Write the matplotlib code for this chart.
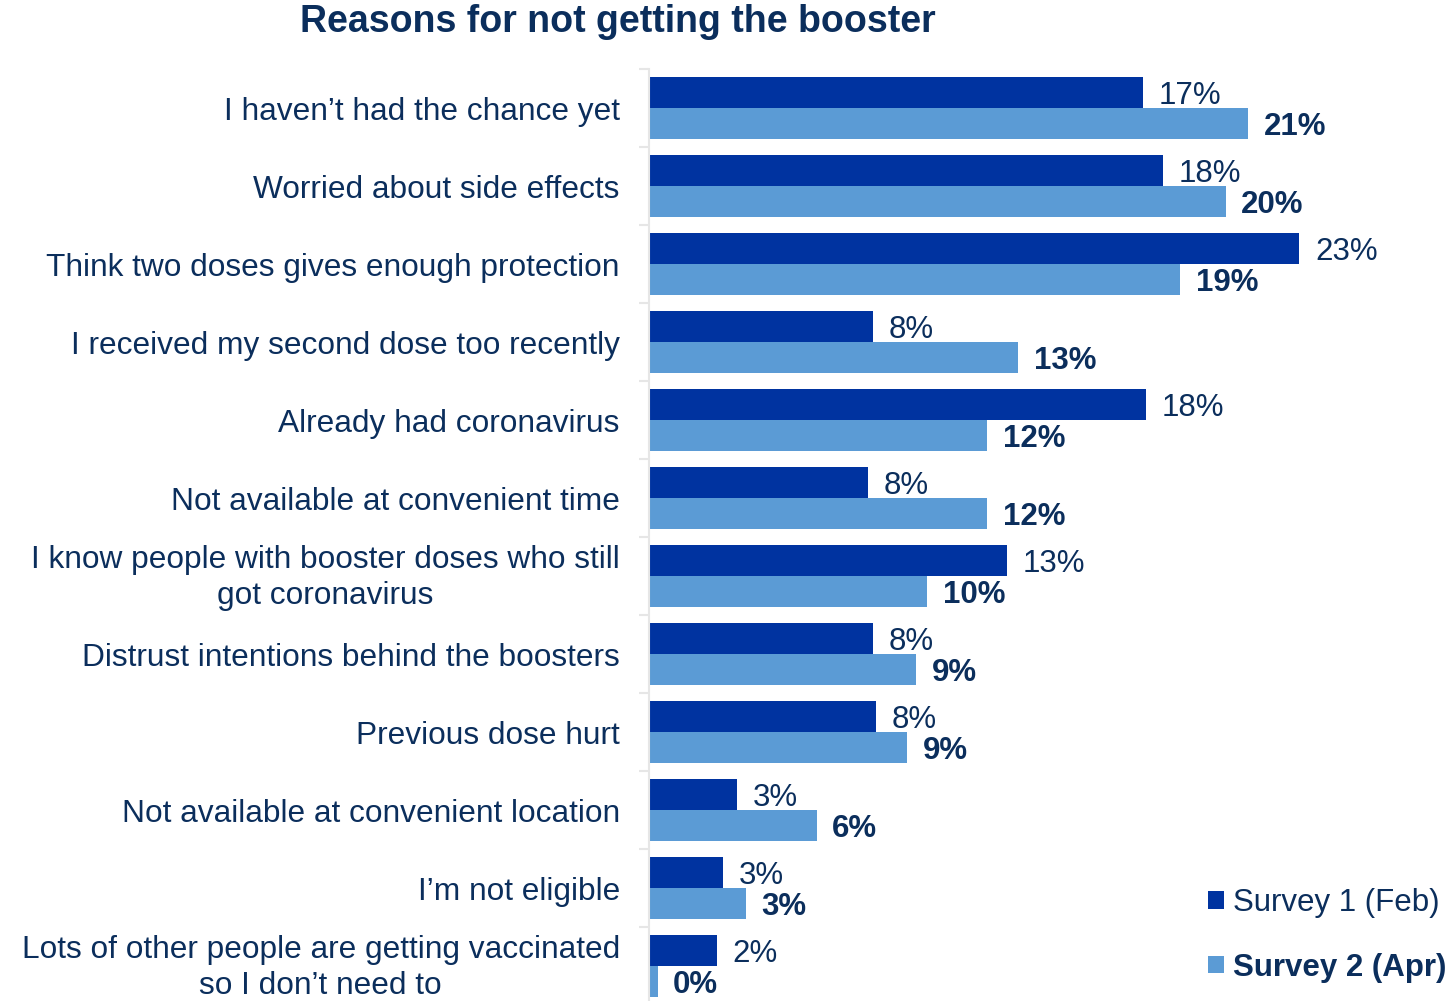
import matplotlib.pyplot as plt
import matplotlib.transforms as mtransforms
import numpy as np

plt.rcParams['font.family'] = ['Liberation Sans', 'DejaVu Sans']

# Survey responses (% of respondents)
reasons = [
    'I haven\u2019t had the chance yet',
    'Worried about side effects',
    'Think two doses gives enough protection',
    'I received my second dose too recently',
    'Already had coronavirus',
    'Not available at convenient time',
    'I know people with booster doses who still\ngot coronavirus',
    'Distrust intentions behind the boosters',
    'Previous dose hurt',
    'Not available at convenient location',
    'I\u2019m not eligible',
    'Lots of other people are getting vaccinated\nso I don\u2019t need to',
]
survey1 = [17.4, 18.1, 22.9, 7.9, 17.5, 7.7, 12.6, 7.9, 8.0, 3.1, 2.6, 2.4]
survey2 = [21.1, 20.3, 18.7, 13.0, 11.9, 11.9, 9.8, 9.4, 9.1, 5.9, 3.4, 0.3]

dark = '#0033A0'
light = '#5B9BD5'
text_col = '#0B2E5C'

fig = plt.figure(figsize=(14.56, 10.01), dpi=100)
ax = fig.add_axes([649 / 1456, -4 / 1001, 807 / 1456, 936 / 1001])

y = np.arange(len(reasons))
h = 0.4
ax.barh(y - h / 2, survey1, height=h, color=dark, label='Survey 1 (Feb)')
ax.barh(y + h / 2, survey2, height=h, color=light, label='Survey 2 (Apr)')

# value labels: plain for survey 1, bold for survey 2
for yi, v in zip(y, survey1):
    ax.text(v + 0.55, yi - h / 2 + 0.04, f'{v:.0f}%', va='center', ha='left',
            fontsize=22.5, color=text_col)
for yi, v in zip(y, survey2):
    ax.text(v + 0.55, yi + h / 2 + 0.04, f'{v:.0f}%', va='center', ha='left',
            fontsize=22.5, color=text_col, fontweight='bold')

ax.set_ylim(len(reasons) - 0.5, -0.5)
ax.set_xlim(0, 807 / 28.4)
ax.set_yticks(y)
ax.set_yticklabels(reasons, fontsize=22.8, color=text_col, linespacing=1.3)
ax.set_yticks(np.arange(len(reasons) + 1) - 0.5, minor=True)
ax.tick_params(axis='y', which='major', length=0, pad=21)
ax.tick_params(axis='y', which='minor', length=7, width=1.5, color='#E6E6E6')
nudge = mtransforms.ScaledTranslation(0, 5 / 100, fig.dpi_scale_trans)
for lbl in ax.get_yticklabels():
    lbl.set_horizontalalignment('right')
    lbl.set_multialignment('center')
    if '\n' in lbl.get_text():
        lbl.set_transform(lbl.get_transform() + nudge)
ax.set_xticks([])
for s in ['top', 'right', 'bottom']:
    ax.spines[s].set_visible(False)
ax.spines['left'].set_color('#E6E6E6')
ax.spines['left'].set_linewidth(1.5)

fig.text(618 / 1456, 1 - 22 / 1001, 'Reasons for not getting the booster',
         ha='center', va='center', fontsize=27, fontweight='bold', color=text_col)

leg = ax.legend(loc='lower right', bbox_to_anchor=(1.0, 13 / 936), frameon=False,
                fontsize=22.5, handlelength=0.5, handleheight=0.5,
                handletextpad=0.3, labelspacing=1.1, borderaxespad=0.1,
                borderpad=0.2)
for t in leg.get_texts():
    t.set_color(text_col)
leg.get_texts()[1].set_fontweight('bold')

fig.savefig('out.png', dpi=100)
